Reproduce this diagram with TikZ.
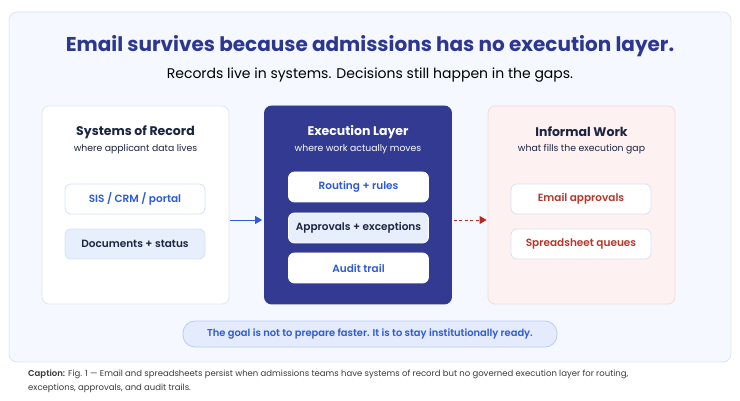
\documentclass[tikz,border=0pt]{standalone}
\usepackage{fontspec}
\setmainfont{Poppins}
\newfontfamily\semib{Poppins SemiBold}
\usetikzlibrary{arrows.meta}
\definecolor{panelbg}{HTML}{F5F8FE}
\definecolor{panelline}{HTML}{DCE5F5}
\definecolor{titleink}{HTML}{2E3790}
\definecolor{navy}{HTML}{1B2440}
\definecolor{execbg}{HTML}{323A92}
\definecolor{blueink}{HTML}{2D5BD6}
\definecolor{paleblue}{HTML}{E7EFFD}
\definecolor{chipline}{HTML}{D6E1F7}
\definecolor{pinkbg}{HTML}{FDF1F1}
\definecolor{pinkline}{HTML}{F5DADA}
\definecolor{redink}{HTML}{B5372C}
\definecolor{redarrow}{HTML}{B52A20}
\definecolor{pillbg}{HTML}{E3EBFC}
\definecolor{pillline}{HTML}{B9CCF4}
\definecolor{capink}{HTML}{3A3A3A}
\begin{document}
\begin{tikzpicture}[x=1pt,y=-1pt,
  card/.style={draw=panelline, line width=0.8pt, rounded corners=7pt, minimum width=187pt, minimum height=198pt, inner sep=0pt},
  chip/.style={draw=chipline, line width=0.8pt, fill=white, rounded corners=6pt, minimum width=140pt, minimum height=30pt, inner sep=0pt, font=\semib\fontsize{10.5}{12}\selectfont},
  head/.style={font=\bfseries\fontsize{12.5}{14}\selectfont},
  sub/.style={font=\fontsize{9.3}{11}\selectfont}]
\useasboundingbox (0,0) rectangle (740,401);
\node[draw=panelline, fill=panelbg, line width=0.8pt, rounded corners=8pt, minimum width=722pt, minimum height=350pt] (panel) at (370,187) {};
\node[text=titleink, font=\bfseries\fontsize{20}{24}\selectfont] (title) at (370,46) {Email survives because admissions has no execution layer.};
\node[text=black, font=\fontsize{14}{17}\selectfont] (lead) at (370,75) {Records live in systems. Decisions still happen in the gaps.};
\node[card, fill=white] (sor) at (135.5,205) {};
\node[head, text=navy] (sorhead) at (135.5,132) {Systems of Record};
\node[sub, text=navy] (sorsub) at (135.5,149) {where applicant data lives};
\node[chip, text=blueink] (sis) at (135,199) {SIS / CRM / portal};
\node[chip, fill=paleblue, text=navy] (docs) at (135,244) {Documents + status};
\node[card, draw=execbg, fill=execbg] (exe) at (358,205) {};
\node[head, text=white] (exehead) at (358,132) {Execution Layer};
\node[sub, text=white] (exesub) at (358,149) {where work actually moves};
\node[chip, draw=white, text=blueink] (route) at (358.5,187) {Routing + rules};
\node[chip, draw=white, fill=paleblue, text=navy] (appr) at (358.5,228) {Approvals + exceptions};
\node[chip, draw=white, text=blueink] (audit) at (358.5,268) {Audit trail};
\node[card, draw=pinkline, fill=pinkbg] (inf) at (581.5,205) {};
\node[head, text=navy] (infhead) at (581.5,132) {Informal Work};
\node[sub, text=navy] (infsub) at (581.5,149) {what fills the execution gap};
\node[chip, text=redink] (email) at (581,199) {Email approvals};
\node[chip, text=redink] (sheet) at (581,244) {Spreadsheet queues};
\coordinate (arrowy) at (0,220);
\draw[blueink, line width=0.9pt, -{Triangle[length=7pt,width=8pt]}] (sor.east |- arrowy) ++(1,0) -- ([xshift=-2pt]exe.west |- arrowy);
\draw[redarrow, line width=0.9pt, dashed, dash pattern=on 3pt off 2.5pt, -{Triangle[length=7pt,width=8pt]}] (exe.east |- arrowy) ++(2,0) -- ([xshift=-1pt]inf.west |- arrowy);
\node[draw=pillline, fill=pillbg, line width=0.8pt, rounded corners=12pt, minimum width=374pt, minimum height=26pt, inner sep=0pt, text=blueink, font=\semib\fontsize{9.9}{12}\selectfont] (goal) at (370,334) {The goal is not to prepare faster. It is to stay institutionally ready.};
\node[anchor=north west, align=left, inner sep=0pt, text=capink, font=\fontsize{8.5}{14}\selectfont] (caption) at (28,370) {{\semib Caption:} Fig. 1 --- Email and spreadsheets persist when admissions teams have systems of record but no governed execution layer for routing,\\exceptions, approvals, and audit trails.};
\end{tikzpicture}
\end{document}
